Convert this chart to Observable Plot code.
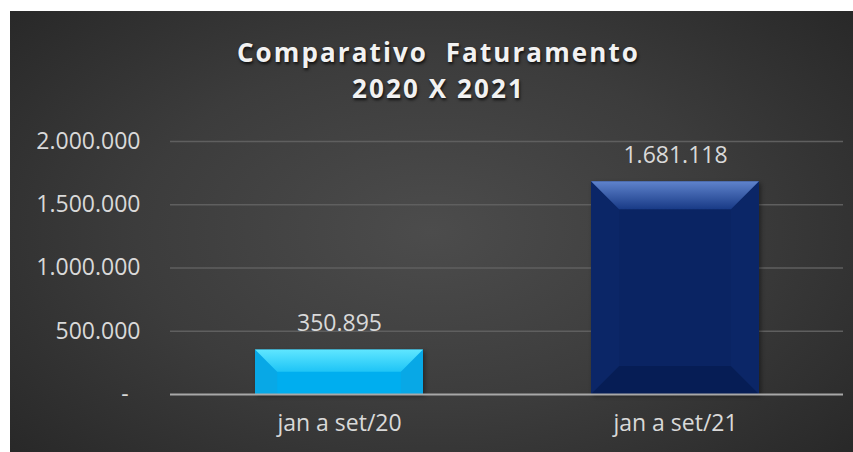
<!DOCTYPE html>
<html><head><meta charset="utf-8">
<script src="https://cdn.jsdelivr.net/npm/d3@7"></script>
<script src="https://cdn.jsdelivr.net/npm/@observablehq/plot@0.6"></script>
<style>
html,body{margin:0;padding:0;background:#fff;}
#chart{position:absolute;left:10px;top:11px;width:843px;height:441px;overflow:hidden;
background:radial-gradient(ellipse 70% 80% at 50% 50%, #4c4c4c 0%, #3c3c3c 50%, #262626 100%);}
#title{box-sizing:border-box;height:109px;padding-top:23px;padding-left:14px;text-align:center;font-family:"Open Sans",sans-serif;font-weight:700;font-size:26px;line-height:36px;letter-spacing:2.1px;color:#f2f2f2;text-shadow:1px 2px 3px rgba(0,0,0,0.75);}
#chart svg{display:block;}
</style></head><body>
<div id="chart"><div id="title">Comparativo&nbsp; Faturamento<br>2020 X 2021</div></div>
<script>
// ---- data ----
const categories = ["jan a set/20", "jan a set/21"];
const values = [350895, 1681118];
const yTicks = [0, 500000, 1000000, 1500000, 2000000];

// ---- styles ----
const barFill = ["#00aeef", "#0a2463"];
const bevelStyle = [
  {top: ["#5fe6ff", "#1ec4f6"], side: "#08a8e6", bottom: "#05a2dc"},
  {top: ["#5f83cc", "#183a86"], side: "#0b2667", bottom: "#061d55"}
];

const data = categories.map((c, i) => ({cat: c, value: values[i]}));
const br = d3.formatLocale({decimal: ",", thousands: ".", grouping: [3], currency: ["R$", ""]});
const fmt = br.format(",d");
const yFmt = d => d === 0 ? "-\u00a0\u00a0" : fmt(d);

const plot = Plot.plot({
  width: 843,
  height: 332,
  marginTop: 21,
  marginBottom: 58,
  marginLeft: 160,
  marginRight: 10,
  style: {background: "transparent", color: "#d9d9d9", fontFamily: "'Open Sans', sans-serif", fontSize: "23px", overflow: "visible"},
  x: {domain: categories, paddingInner: 0.5, paddingOuter: 0.25, label: null},
  y: {domain: [0, 2000000], label: null},
  color: {domain: categories, range: barFill},
  marks: [
    Plot.gridY(yTicks.filter(d => d > 0), {stroke: "#5f5f5f", strokeOpacity: 1, strokeWidth: 1.3}),
    Plot.barY(data, {x: "cat", y: "value", fill: "cat"}),
    Plot.ruleY([0], {stroke: "#a8a8a8", strokeWidth: 2.2}),
    Plot.text(data, {x: "cat", y: "value", text: d => fmt(d.value), dy: -26, lineAnchor: "middle", fill: "#d9d9d9", fontSize: 23}),
    Plot.axisY(yTicks, {tickFormat: yFmt, tickSize: 0, tickPadding: 30, fill: "#d9d9d9", fontSize: 23}),
    Plot.axisX({tickSize: 0, tickPadding: 20, fill: "#d9d9d9", fontSize: 23})
  ]
});
document.getElementById("chart").appendChild(plot);

// ---- bevel decoration derived from rendered bars ----
const svg = d3.select(plot);
const defs = svg.insert("defs", ":first-child");
bevelStyle.forEach((s, i) => {
  const g = defs.append("linearGradient").attr("id", "bev" + i).attr("x1", 0).attr("y1", 0).attr("x2", 0).attr("y2", 1);
  g.append("stop").attr("offset", 0).attr("stop-color", s.top[0]);
  g.append("stop").attr("offset", 1).attr("stop-color", s.top[1]);
});
const rects = Array.from(plot.querySelectorAll('g[aria-label="bar"] rect'))
  .sort((a, b) => +a.getAttribute("x") - +b.getAttribute("x"));
rects.forEach((r, i) => {
  const x = +r.getAttribute("x"), y = +r.getAttribute("y"), w = +r.getAttribute("width"), h = +r.getAttribute("height");
  const b = Math.min(28, h / 2);
  const s = bevelStyle[i];
  const g = d3.select(r.parentNode);
  const poly = (pts, fill) => g.append("polygon").attr("points", pts.map(p => p.join(",")).join(" ")).attr("fill", fill);
  const tall = h > 4 * b;
  if (tall) poly([[x, y + h], [x + b, y + h - b], [x + w - b, y + h - b], [x + w, y + h]], s.bottom);
  poly([[x, y], [x + b, y + b], [x + b, y + h - (tall ? b : 0)], [x, y + h]], s.side);
  poly([[x + w, y], [x + w - b, y + b], [x + w - b, y + h - (tall ? b : 0)], [x + w, y + h]], s.side);
  poly([[x, y], [x + w, y], [x + w - b, y + b], [x + b, y + b]], "url(#bev" + i + ")");
  r.setAttribute("filter", "drop-shadow(2px 2px 2px rgba(0,0,0,0.4))");
});
</script>
</body></html>
